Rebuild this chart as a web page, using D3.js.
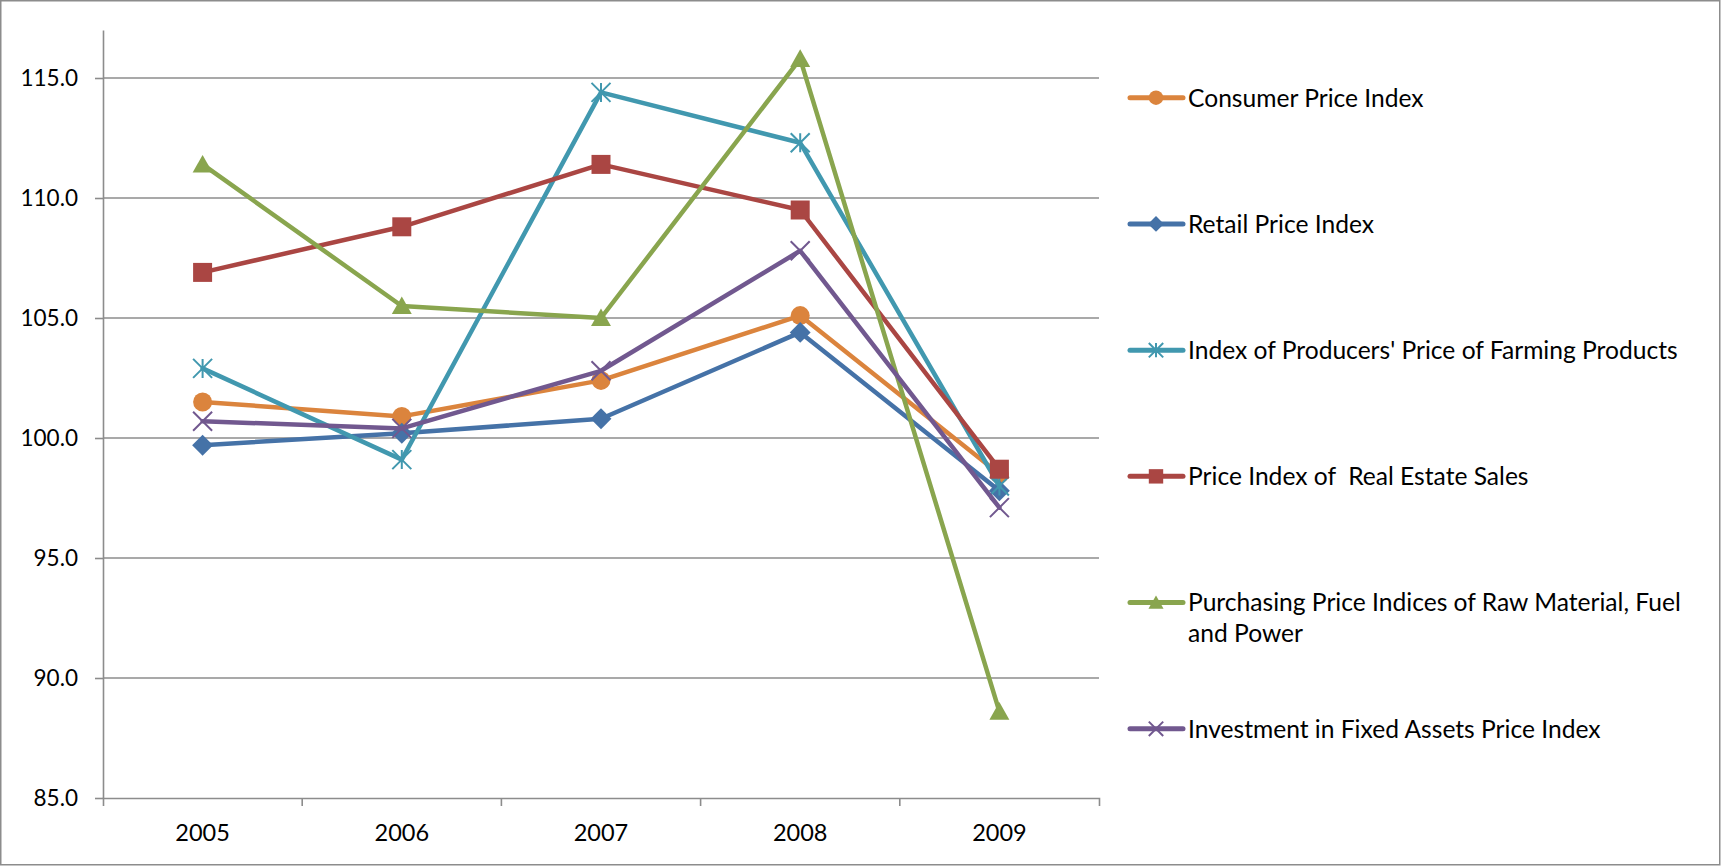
<!DOCTYPE html>
<html>
<head>
<meta charset="utf-8">
<script src="https://cdn.jsdelivr.net/npm/d3@7"></script>
<style>
  html, body { margin: 0; padding: 0; background: #fff; }
  svg { display: block; font-family: Lato, "Open Sans", sans-serif; }
  text { fill: #000; white-space: pre; }
</style>
</head>
<body>
<svg id="chart" width="1721" height="866"></svg>
<script>
// Price indices, 2005–2009 (previous year = 100)
const years = ["2005", "2006", "2007", "2008", "2009"];
const seriesNames = [
  "Consumer Price Index",
  "Retail Price Index",
  "Index of Producers' Price of Farming Products",
  "Price Index of  Real Estate Sales",
  "Purchasing Price Indices of Raw Material, Fuel\nand Power",
  "Investment in Fixed Assets Price Index"
];
const consumerPrice   = [101.5, 100.9, 102.4, 105.1, 98.5];
const retailPrice     = [99.7, 100.2, 100.8, 104.4, 97.8];
const farmingProducer = [102.9, 99.1, 114.4, 112.3, 98.0];
const realEstate      = [106.9, 108.8, 111.4, 109.5, 98.7];
const rawMaterial     = [111.4, 105.5, 105.0, 115.8, 88.6];
const fixedAssets     = [100.7, 100.4, 102.8, 107.8, 97.1];
const yTicks = [85, 90, 95, 100, 105, 110, 115];

const seriesValues = [consumerPrice, retailPrice, farmingProducer, realEstate, rawMaterial, fixedAssets];
const colors = ["#DB843D", "#4572A7", "#4198AF", "#AA4643", "#89A54E", "#71588F"];
const markers = ["circle", "diamond", "star", "square", "triangle", "x"];

const svg = d3.select("#chart");
const W = 1721, H = 866;
const gridColor = "#8c8c8c";

// outer frame
svg.append("rect")
  .attr("x", 0.75).attr("y", 0.75)
  .attr("width", W - 2).attr("height", H - 2)
  .attr("fill", "#fff").attr("stroke", gridColor).attr("stroke-width", 1.5);

const x = d3.scaleBand().domain(years).range([103, 1099]);
const y = d3.scaleLinear().domain([85, 117]).range([798, 30]);
const cx = i => x(years[i]) + x.bandwidth() / 2;

// horizontal gridlines
svg.append("g")
  .selectAll("line")
  .data(yTicks.slice(1))
  .join("line")
  .attr("x1", x.range()[0]).attr("x2", x.range()[1])
  .attr("y1", d => y(d)).attr("y2", d => y(d))
  .attr("stroke", gridColor).attr("stroke-width", 1.6);

// y axis
const yAxis = svg.append("g")
  .attr("transform", `translate(${x.range()[0]},0)`)
  .call(d3.axisLeft(y).tickValues(yTicks).tickFormat(d3.format(".1f"))
    .tickSize(8).tickSizeOuter(0).tickPadding(17));

// x axis with tick marks on category boundaries
const xAxis = svg.append("g")
  .attr("transform", `translate(0,${y(85)})`)
  .call(d3.axisBottom(x).tickSize(0).tickSizeOuter(8).tickPadding(26));
xAxis.selectAll(".boundary")
  .data(d3.range(1, years.length))
  .join("line")
  .attr("class", "boundary")
  .attr("x1", i => x.range()[0] + i * x.step())
  .attr("x2", i => x.range()[0] + i * x.step())
  .attr("y1", 0).attr("y2", 8);

[yAxis, xAxis].forEach(g => {
  g.selectAll("path, line").attr("stroke", gridColor).attr("stroke-width", 1.6);
  g.selectAll("text").attr("fill", "#000")
    .attr("font-family", "Lato, 'Open Sans', sans-serif");
});
yAxis.selectAll("text").attr("font-size", 22.5);
xAxis.selectAll("text").attr("font-size", 23.5);

// marker shapes, s = half size
function markerPath(type, s) {
  const p = d3.path();
  if (type === "circle") { p.arc(0, 0, s, 0, 2 * Math.PI); }
  else if (type === "square") { p.rect(-s, -s, 2 * s, 2 * s); }
  else if (type === "diamond") {
    const d = s * 1.1;
    p.moveTo(0, -d); p.lineTo(d, 0); p.lineTo(0, d); p.lineTo(-d, 0); p.closePath();
  } else if (type === "triangle") {
    p.moveTo(0, -s * 1.0); p.lineTo(s * 1.05, s * 0.85); p.lineTo(-s * 1.05, s * 0.85); p.closePath();
  } else if (type === "star") {
    p.moveTo(0, -s); p.lineTo(0, s);
    p.moveTo(-s, -s); p.lineTo(s, s);
    p.moveTo(-s, s); p.lineTo(s, -s);
  } else if (type === "x") {
    p.moveTo(-s, -s); p.lineTo(s, s);
    p.moveTo(-s, s); p.lineTo(s, -s);
  }
  return p.toString();
}
const isStroked = t => t === "star" || t === "x";

function drawMarker(g, type, color, s) {
  const m = g.append("path").attr("d", markerPath(type, s));
  if (isStroked(type)) m.attr("fill", "none").attr("stroke", color).attr("stroke-width", 2);
  else m.attr("fill", color).attr("stroke", "none");
  return m;
}

// series
const line = d3.line().x((d, i) => cx(i)).y(d => y(d));
seriesValues.forEach((vals, k) => {
  const g = svg.append("g");
  g.append("path").attr("d", line(vals))
    .attr("fill", "none").attr("stroke", colors[k])
    .attr("stroke-width", 4.5).attr("stroke-linejoin", "round").attr("stroke-linecap", "round");
  vals.forEach((v, i) => {
    const mg = g.append("g").attr("transform", `translate(${cx(i)},${y(v)})`);
    drawMarker(mg, markers[k], colors[k], 9.5);
  });
});

// legend
const ly = d3.scalePoint().domain(seriesNames).range([97.7, 728.8]);
const legend = svg.append("g");
seriesNames.forEach((name, k) => {
  const g = legend.append("g").attr("transform", `translate(0,${ly(name)})`);
  g.append("line").attr("x1", 1130).attr("x2", 1183).attr("y1", 0).attr("y2", 0)
    .attr("stroke", colors[k]).attr("stroke-width", 5).attr("stroke-linecap", "round");
  const mg = g.append("g").attr("transform", "translate(1156,0)");
  drawMarker(mg, markers[k], colors[k], 7.2);
  const t = g.append("text").attr("x", 1188).attr("y", 0)
    .attr("font-size", 24.6);
  name.split("\n").forEach((ln, j) => {
    t.append("tspan").attr("x", 1188).attr("y", j * 31).attr("dy", "0.36em").text(ln);
  });
});
</script>
</body>
</html>
